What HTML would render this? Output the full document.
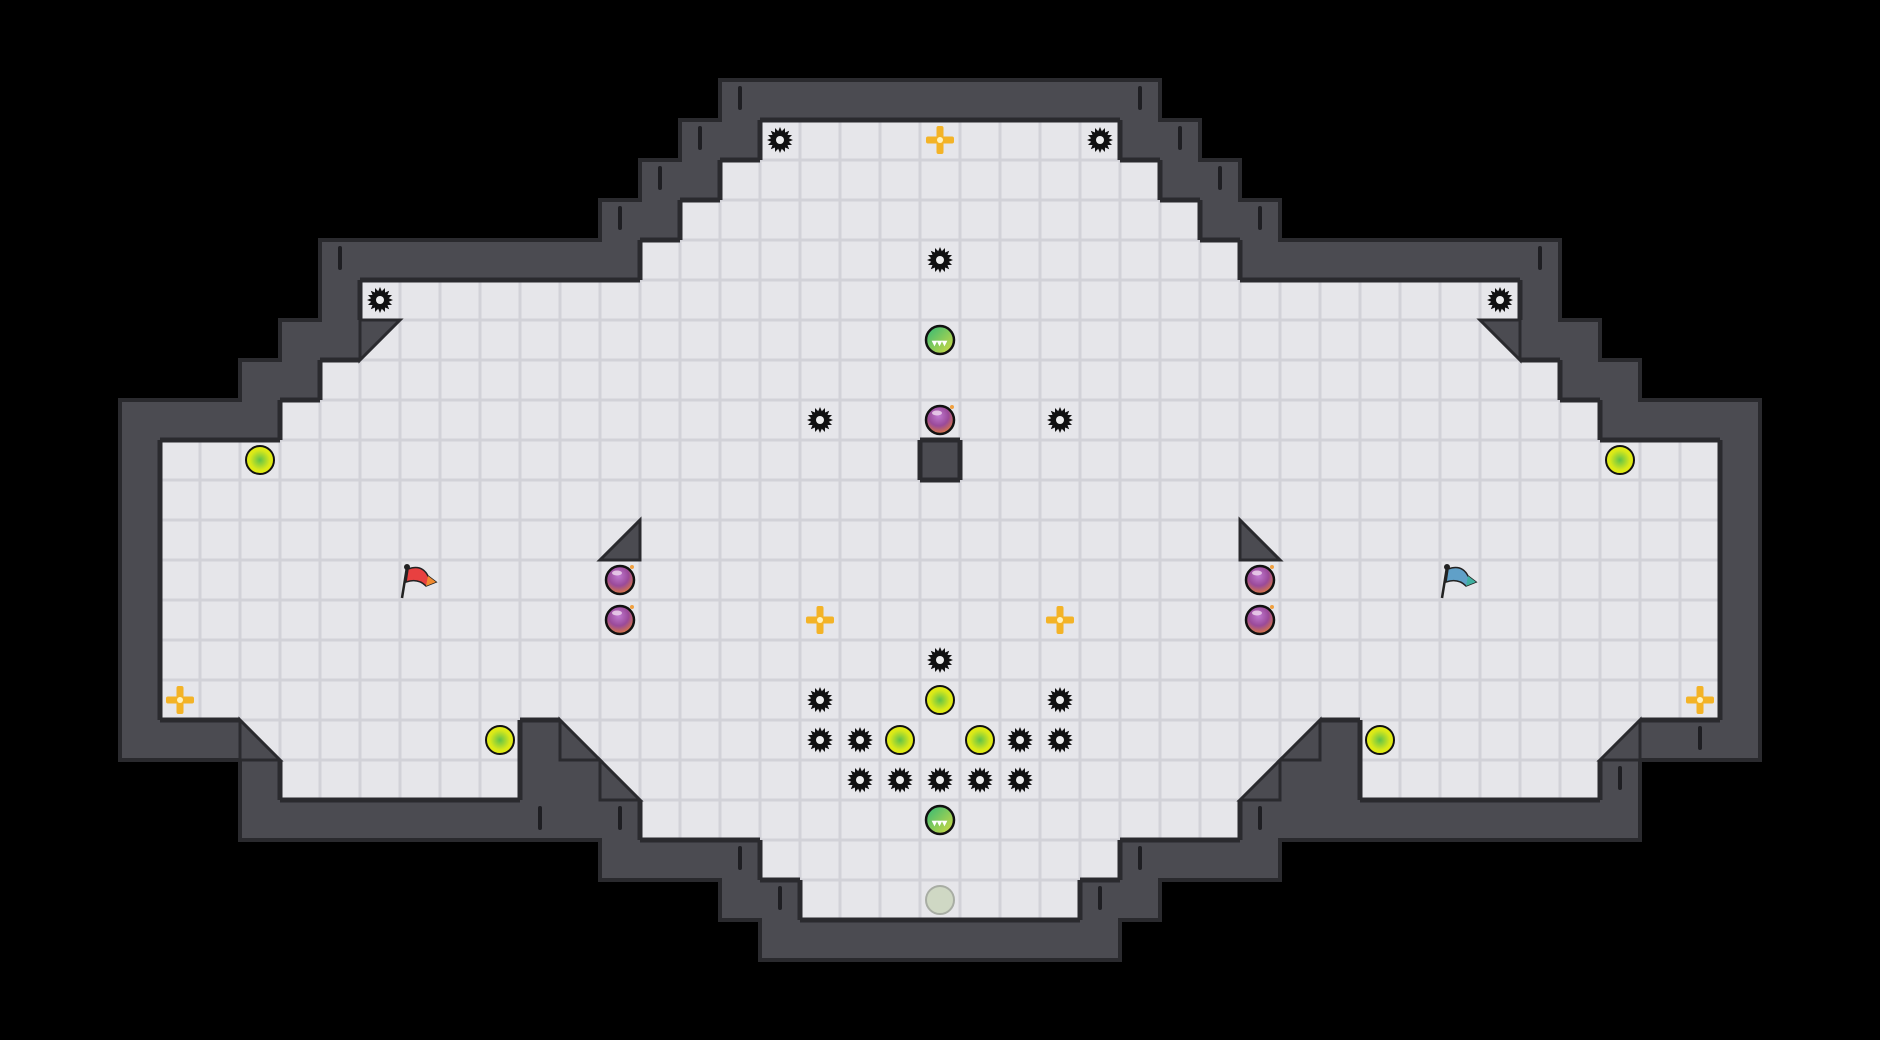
<!DOCTYPE html>
<html><head><meta charset="utf-8"><style>
html,body{margin:0;padding:0;background:#000;width:1880px;height:1040px;overflow:hidden}
svg{display:block}
</style></head><body>
<svg id="s" width="1880" height="1040" xmlns="http://www.w3.org/2000/svg">
<defs>
<radialGradient id="yg" cx="50%" cy="50%" r="50%"><stop offset="0" stop-color="#5fc24a"/><stop offset="0.7" stop-color="#d8e81a"/><stop offset="1" stop-color="#e6ee10"/></radialGradient>
<radialGradient id="pg" cx="45%" cy="35%" r="60%"><stop offset="0" stop-color="#c07ad0"/><stop offset="0.6" stop-color="#9a4a9a"/><stop offset="1" stop-color="#d07050"/></radialGradient>
<linearGradient id="gg" x1="0" y1="0" x2="1" y2="1"><stop offset="0" stop-color="#2fb878"/><stop offset="1" stop-color="#d8dc40"/></linearGradient>
</defs>
</svg>
<script>
var S=document.getElementById('s'),NS='http://www.w3.org/2000/svg';
function el(t,a){var e=document.createElementNS(NS,t);for(var k in a)e.setAttribute(k,a[k]);S.appendChild(e);return e;}
var T=40,X0=160,Y0=120;
var rows={0:[[15,23]],1:[[14,24]],2:[[13,25]],3:[[12,26]],4:[[5,33]],5:[[6,32]],6:[[4,34]],7:[[3,35]],
8:[[0,38]],9:[[0,38]],10:[[0,38]],11:[[0,38]],12:[[0,38]],13:[[0,38]],14:[[0,38]],
15:[[3,8],[11,27],[30,35]],16:[[3,8],[12,26],[30,35]],17:[[12,26]],18:[[15,23]],19:[[16,22]]};
var F={};
for(var r in rows)rows[r].forEach(function(s){for(var c=s[0];c<=s[1];c++)F[r+','+c]=1;});
delete F['8,19'];
var tri=[[5,5,'ul'],[5,33,'ur'],[10,11,'lr'],[10,27,'ll'],[15,2,'ll'],[15,36,'lr'],[15,10,'ll'],[16,11,'ll'],[15,28,'lr'],[16,27,'lr']];
var D={};tri.forEach(function(t){D[t[0]+','+t[1]]=1;});
delete F['10,11'];delete F['10,27'];
var W={};
for(var k in F){var p=k.split(',').map(Number);for(var dr=-1;dr<=1;dr++)for(var dc=-1;dc<=1;dc++){var kk=(p[0]+dr)+','+(p[1]+dc);if(!F[kk])W[kk]=1;}}
for(var k in D)W[k]=1;
W['17,10']=1;W['17,28']=1;
for(var k in W){var p=k.split(',').map(Number);el('rect',{x:X0+p[1]*T,y:Y0+p[0]*T,width:T,height:T,fill:'#4b4b51'});}
for(var k in W){var p=k.split(',').map(Number),x=X0+p[1]*T,y=Y0+p[0]*T;
 var n=[[-1,0,x,y,x+T,y],[1,0,x,y+T,x+T,y+T],[0,-1,x,y,x,y+T],[0,1,x+T,y,x+T,y+T]];
 n.forEach(function(q){var kk=(p[0]+q[0])+','+(p[1]+q[1]);if(!W[kk]&&!F[kk])el('line',{x1:q[2],y1:q[3],x2:q[4],y2:q[5],stroke:'#2a2a2e','stroke-width':4,'stroke-linecap':'square'});});}
function tile(x,y){el('rect',{x:x,y:y,width:T,height:T,fill:'#d2d2d8'});el('rect',{x:x+1.5,y:y+1.5,width:T-3,height:T-3,fill:'#e6e6ea'});}
for(var k in F){var p=k.split(',').map(Number);tile(X0+p[1]*T,Y0+p[0]*T);}
for(var k in D){var p=k.split(',').map(Number);tile(X0+p[1]*T,Y0+p[0]*T);}
for(var k in F){var p=k.split(',').map(Number),x=X0+p[1]*T,y=Y0+p[0]*T;
 var n=[[-1,0,x,y,x+T,y],[1,0,x,y+T,x+T,y+T],[0,-1,x,y,x,y+T],[0,1,x+T,y,x+T,y+T]];
 n.forEach(function(q){var kk=(p[0]+q[0])+','+(p[1]+q[1]);if(!F[kk]&&!D[kk])el('line',{x1:q[2],y1:q[3],x2:q[4],y2:q[5],stroke:'#2a2a2e','stroke-width':5});});}
tri.forEach(function(t){var x=X0+t[1]*T,y=Y0+t[0]*T,pts;
 if(t[2]=='ul')pts=[x,y,x+T,y,x,y+T];else if(t[2]=='ur')pts=[x,y,x+T,y,x+T,y+T];
 else if(t[2]=='ll')pts=[x,y,x,y+T,x+T,y+T];else pts=[x+T,y,x+T,y+T,x,y+T];
 el('polygon',{points:pts.join(' '),fill:'#4b4b51',stroke:'#2a2a2e','stroke-width':3});});
[[-1,14],[0,13],[1,12],[2,11],[3,4],[4,3],[5,2],[6,1],[17,9],[-1,24],[0,25],[1,26],[2,27],[3,34],[4,35],[5,36],[6,37],[15,38],[16,36],[17,11],[18,14],[19,15],[19,23],[18,24],[17,27]].forEach(function(q){
 if(!W[q[0]+','+q[1]]||D[q[0]+','+q[1]])return;
 var x=X0+q[1]*T+20,y=Y0+q[0]*T+8;el('line',{x1:x,y1:y,x2:x,y2:y+20,stroke:'#1e1e22','stroke-width':4,'stroke-linecap':'round'});});
function cx(c){return X0+c*T+20;}function cy(r){return Y0+r*T+20;}
function gear(c,r){var x=cx(c),y=cy(r),pts=[];for(var i=0;i<32;i++){var a=i*Math.PI/16,R=i%2?9:13;pts.push((x+R*Math.cos(a)).toFixed(1)+','+(y+R*Math.sin(a)).toFixed(1));}
 el('polygon',{points:pts.join(' '),fill:'#111'});el('circle',{cx:x,cy:y,r:4,fill:'#eee'});}
[[15,0],[23,0],[19,3],[5,4],[33,4],[16,7],[22,7],[19,13],[16,14],[22,14],[16,15],[17,15],[21,15],[22,15],[17,16],[18,16],[19,16],[20,16],[21,16]].forEach(function(q){gear(q[0],q[1]);});
[[2,8],[36,8],[19,14],[8,15],[18,15],[20,15],[30,15]].forEach(function(q){el('circle',{cx:cx(q[0]),cy:cy(q[1]),r:14,fill:'url(#yg)',stroke:'#111','stroke-width':2});});
function cross(c,r){var x=cx(c),y=cy(r);el('rect',{x:x-3.5,y:y-14,width:7,height:28,rx:2,fill:'#f3b326'});el('rect',{x:x-14,y:y-3.5,width:28,height:7,rx:2,fill:'#f3b326'});el('circle',{cx:x,cy:y,r:3,fill:'#fff3c0'});}
[[19,0],[16,12],[22,12],[0,14],[38,14]].forEach(function(q){cross(q[0],q[1]);});
[[19,5],[19,17]].forEach(function(q){var x=cx(q[0]),y=cy(q[1]);el('circle',{cx:x,cy:y,r:14,fill:'url(#gg)',stroke:'#111','stroke-width':2.5});
 el('text',{x:x-8,y:y+6,'font-family':'Liberation Sans, sans-serif','font-size':10,fill:'#fff','font-weight':'bold'}).textContent='▾▾▾';});
[[19,7],[11,11],[11,12],[27,11],[27,12]].forEach(function(q){var x=cx(q[0]),y=cy(q[1]);el('circle',{cx:x,cy:y,r:14,fill:'url(#pg)',stroke:'#111','stroke-width':2.5});el('circle',{cx:x+12,cy:y-13,r:2,fill:'#f0a040'});el('ellipse',{cx:x-3,cy:y-7,rx:5,ry:2.5,fill:'#f0d8f0',opacity:.8});});
el('circle',{cx:cx(19),cy:cy(19),r:14,fill:'#cfd8c4',stroke:'#a8ada4','stroke-width':2});
function flag(c,r,col,col2){var x=X0+c*T+4,y=Y0+r*T+4;el('line',{x1:x+3,y1:y+3,x2:x-2,y2:y+34,stroke:'#222','stroke-width':2.5});el('circle',{cx:x+3,cy:y+3,r:3,fill:'#222'});
 el('path',{d:'M'+(x+4)+' '+(y+5)+' Q'+(x+18)+' '+(y)+' '+(x+24)+' '+(y+12)+' L'+(x+32)+' '+(y+18)+' L'+(x+22)+' '+(y+22)+' Q'+(x+14)+' '+(y+14)+' '+(x+2)+' '+(y+18)+' Z',fill:col,stroke:'#222','stroke-width':1.5});
 el('path',{d:'M'+(x+24)+' '+(y+12)+' L'+(x+32)+' '+(y+18)+' L'+(x+22)+' '+(y+22)+' Z',fill:col2});}
flag(6,11,'#e84040','#f08a30');flag(32,11,'#60a0c8','#40b0a0');
</script>
</body></html>
